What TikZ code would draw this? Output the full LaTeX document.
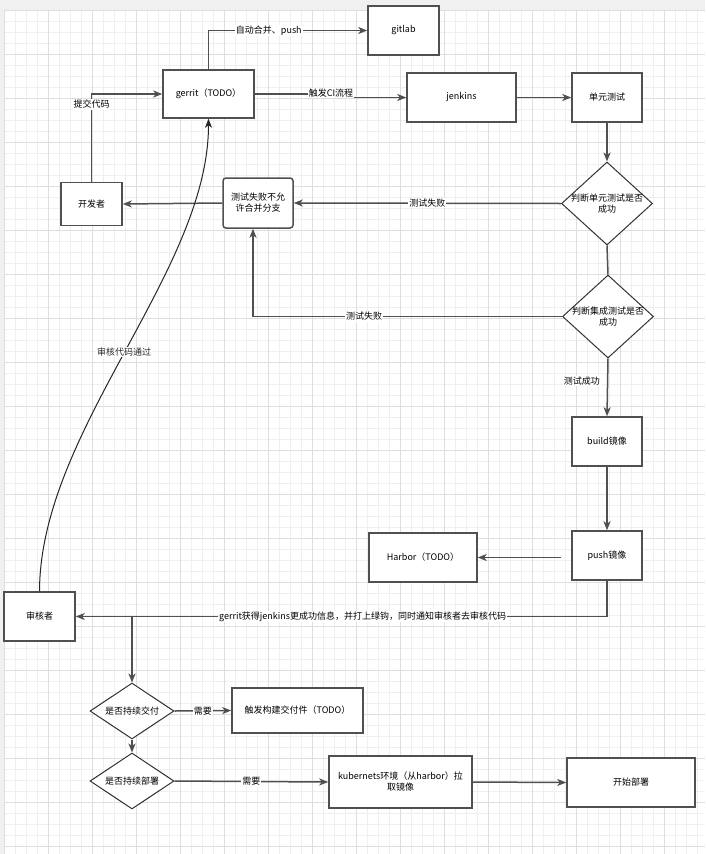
\documentclass[tikz,border=0pt]{standalone}
\usepackage{fontspec}
\setmainfont{Noto Sans CJK SC}
\usetikzlibrary{arrows.meta,shapes.geometric,positioning}
\definecolor{edgegray}{HTML}{505050}
\definecolor{bggray}{HTML}{F0F0F0}
\definecolor{gridminor}{HTML}{EFEFEF}
\definecolor{gridmajor}{HTML}{DEDEDE}

\begin{document}
\begin{tikzpicture}[x=1pt,y=-1pt,font=\fontsize{9}{11}\selectfont,
  box/.style={draw=edgegray,line width=1.5pt,fill=white,align=center,inner sep=2pt},
  dia/.style={diamond,draw=black!80,line width=1pt,fill=white,inner sep=0pt},
  dtxt/.style={align=center,inner sep=0pt},
  arr/.style={-{Stealth[length=9pt,width=7pt,inset=2.5pt]},draw=edgegray,line width=1.5pt},
  lab/.style={fill=white,inner sep=1pt}]
 \useasboundingbox (0,0) rectangle (705,854);
 % ---- canvas and grid ----
 \fill[bggray] (0,0) rectangle (705,854);
 \fill[white] (4,10) rectangle (705,854);
 \foreach \gx in {4,15,...,705} \draw[gridminor,line width=1pt] (\gx,10) -- (\gx,854);
 \foreach \gy in {10,21,...,854} \draw[gridminor,line width=1pt] (4,\gy) -- (705,\gy);
 \foreach \gx in {4,48,...,705} \draw[gridmajor,line width=1pt] (\gx,10) -- (\gx,854);
 \foreach \gy in {10,54,...,854} \draw[gridmajor,line width=1pt] (4,\gy) -- (705,\gy);
 % ---- top row ----
 \node[box,minimum width=91pt,minimum height=48pt] (gerrit) at (208.5,94) {gerrit（TODO）};
 \node[box,minimum width=71pt,minimum height=49pt] (gitlab) at (403.5,30.5) {gitlab};
 \node[box,minimum width=109pt,minimum height=49pt] (jenkins) at (461.5,97.5) {jenkins};
 \node[box,minimum width=70pt,minimum height=49pt] (unit) at (607,97.5) {单元测试};
 \node[box,minimum width=61pt,minimum height=43pt] (dev) at (91.5,204) {开发者};
 \node[box,rounded corners=3pt,minimum width=70pt,minimum height=50pt] (fail) at (258,203) {测试失败不允\\许合并分支};
 % ---- test decisions ----
 \node[dia,minimum width=91pt,minimum height=83pt,
   label={[dtxt]center:{判断单元测试是否\\成功}}] (dunit) at (607,203.5) {};
 \node[dia,minimum width=91pt,minimum height=83pt,
   label={[dtxt]center:{判断集成测试是否\\成功}}] (dint) at (608,316.5) {};
 % ---- images ----
 \node[box,minimum width=70pt,minimum height=49pt] (build) at (607,441.5) {build镜像};
 \node[box,minimum width=70pt,minimum height=49pt] (push) at (607,555.5) {push镜像};
 \node[box,minimum width=108pt,minimum height=49pt] (harbor) at (423,557.5) {Harbor（TODO）};
 \node[box,minimum width=71pt,minimum height=49pt] (rev) at (39.5,616.5) {审核者};
 % ---- delivery ----
 \node[dia,minimum width=84pt,minimum height=56pt,
   label={[dtxt]center:是否持续交付}] (ddeliv) at (132,711) {};
 \node[box,minimum width=131pt,minimum height=45pt] (deliv) at (297.5,710.5) {触发构建交付件（TODO）};
 \node[dia,minimum width=84pt,minimum height=56pt,
   label={[dtxt]center:是否持续部署}] (ddeploy) at (132,781) {};
 \node[box,minimum width=143pt,minimum height=52pt] (kube) at (400.5,782) {kubernets环境（从harbor）拉\\取镜像};
 \node[box,minimum width=128pt,minimum height=49pt] (deploy) at (631,782.5) {开始部署};
 % ---- connectors ----
 \coordinate (ci) at (331,96);
 \draw[arr] (dev.north) |- node[lab,pos=0.44] {提交代码} (gerrit.west);
 \draw[arr] (gerrit.north) |- node[lab,pos=0.69] {自动合并、push} (gitlab.west);
 \draw[arr] (gerrit.east) -| (ci) |- (jenkins.west);
 \node[lab] (cilab) at ([yshift=3pt]ci) {触发CI流程};
 \draw[arr] (jenkins.east) -- (unit.west);
 \draw[arr] (unit.south) -- (dunit.north);
 \draw[arr] (dunit.west) -- node[lab] {测试失败} (fail.east);
 \draw[arr] (fail.west) -- (dev.east);
 \draw[edgegray,line width=1.5pt] (dunit.south) -- (dint.north);
 \draw[arr] (dint.west) -| node[lab,pos=0.32] {测试失败} ([xshift=-5pt]fail.south);
 \draw[arr] (dint.south) -- node[lab,left=6pt,pos=0.39] {测试成功} (build.north);
 \draw[arr] (build.south) -- (push.north);
 \draw[arr,shorten <=10pt] (push.west |- harbor.east) -- (harbor.east);
 \draw[arr] (push.south) |- node[lab,pos=0.73] {gerrit获得jenkins更成功信息，并打上绿钩，同时通知审核者去审核代码} (rev.east);
 \coordinate (branch) at (ddeliv.north |- rev.east);
 \draw[arr] (branch) -- (ddeliv.north);
 \draw[arr] (ddeliv.east) -- node[lab] {需要} (deliv.west);
 \draw[arr] (ddeliv.south) -- (ddeploy.north);
 \draw[arr] (ddeploy.east) -- node[lab] {需要} (kube.west);
 \draw[arr] (kube.east) -- (deploy.west);
 \draw[-{Stealth[length=9pt,width=7pt,inset=2.5pt]},line width=1pt,black!85]
   (rev.north) .. controls (40,430) and (208.5,272) .. node[lab,pos=0.5] {审核代码通过} (gerrit.south);
\end{tikzpicture}
\end{document}
